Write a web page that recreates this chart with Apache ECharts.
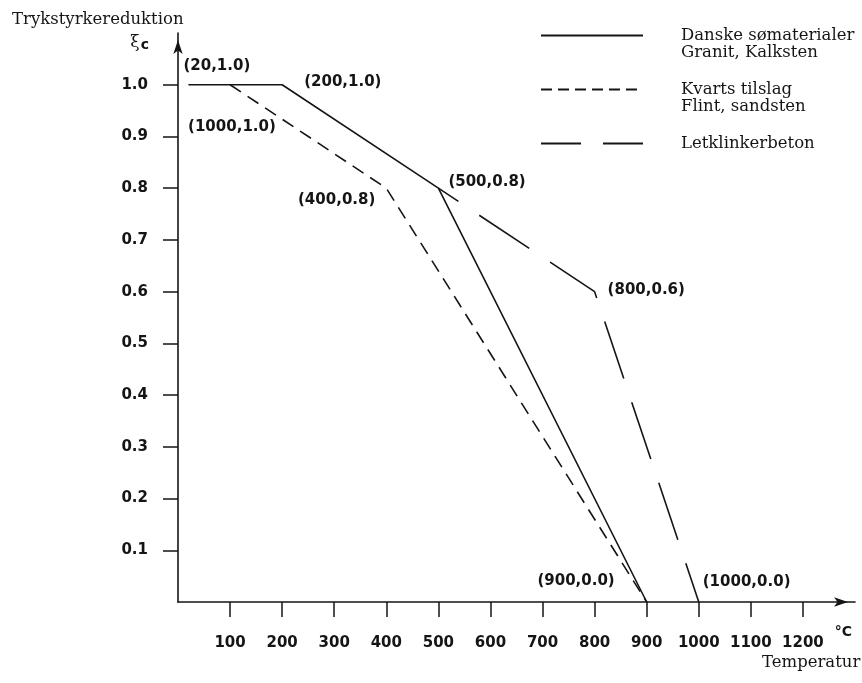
<!DOCTYPE html>
<html>
<head>
<meta charset="utf-8">
<title>Trykstyrkereduktion</title>
<script src="https://cdn.jsdelivr.net/npm/echarts@6/dist/echarts.min.js"></script>
<style>
  html, body { margin: 0; padding: 0; background: #ffffff; }
  #chart { width: 862px; height: 683px; }
</style>
</head>
<body>
<div id="chart"></div>
<script>
// Reduction of compressive strength with temperature, three aggregate types
const danskeTemp = [20, 200, 500, 900];
const danskeXi = [1.0, 1.0, 0.8, 0.0];
const danskeLabels = ['(20,1.0)', '(200,1.0)', '(500,0.8)', '(900,0.0)'];

const kvartsTemp = [100, 400, 900];
const kvartsXi = [1.0, 0.8, 0.0];
const kvartsLabels = ['(1000,1.0)', '(400,0.8)', null];

const letklinkerTemp = [500, 800, 1000];
const letklinkerXi = [0.8, 0.6, 0.0];
const letklinkerLabels = [null, '(800,0.6)', '(1000,0.0)'];

const seriesNames = ['Danske sømaterialer\nGranit, Kalksten', 'Kvarts tilslag\nFlint, sandsten', 'Letklinkerbeton'];
const tempTicks = [100, 200, 300, 400, 500, 600, 700, 800, 900, 1000, 1100, 1200];
const xiTicks = [0.1, 0.2, 0.3, 0.4, 0.5, 0.6, 0.7, 0.8, 0.9, 1.0];

// label placement per point: [dx, dy, align]
const danskeLabelPos = [[-5, -19, 'left'], [22, -3, 'left'], [10, -6, 'left'], [-32, -21, 'right']];
const kvartsLabelPos = [[-42, 42, 'left'], [-11, 12, 'right'], null];
const letklinkerLabelPos = [null, [13, -2, 'left'], [4, -20, 'left']];

const INK = '#151515';
const NUM_FONT = 'DejaVu Sans';
const SERIF = 'DejaVu Serif';

function buildPoints(xs, ys, labels, pos) {
  return xs.map((x, i) => {
    const item = { value: [x, ys[i]] };
    if (labels[i]) {
      item.label = {
        show: true,
        formatter: labels[i],
        position: 'inside',
        align: pos[i][2],
        verticalAlign: 'middle',
        offset: [pos[i][0], pos[i][1]],
        color: INK,
        fontFamily: NUM_FONT,
        fontWeight: 'bold',
        fontSize: 15
      };
    }
    return item;
  });
}

function lineSeries(name, data, dash, dashOffset) {
  return {
    name: name,
    type: 'line',
    data: data,
    symbol: 'circle',
    symbolSize: 2,
    showSymbol: true,
    itemStyle: { color: 'rgba(0,0,0,0)', borderWidth: 0 },
    lineStyle: { color: INK, width: 1.6, type: dash, dashOffset: dashOffset || 0 },
    label: { show: false },
    emphasis: { disabled: true },
    silent: true,
    animation: false,
    z: 3
  };
}

const chart = echarts.init(document.getElementById('chart'), null, { renderer: 'canvas' });

chart.setOption({
  backgroundColor: '#ffffff',
  animation: false,
  title: {
    text: 'Trykstyrkereduktion',
    left: 12,
    top: 11,
    padding: 0,
    textStyle: { fontFamily: SERIF, fontSize: 16.5, fontWeight: 'normal', color: INK }
  },
  legend: {
    orient: 'vertical',
    left: 540,
    top: 10,
    padding: 0,
    itemWidth: 102,
    itemHeight: 14,
    itemGap: 3,
    selectedMode: false,
    itemStyle: { opacity: 0 },
    data: [
      { name: seriesNames[0] },
      { name: seriesNames[1], lineStyle: { type: [11, 6], dashOffset: 0 } },
      { name: seriesNames[2], lineStyle: { type: [40, 22], dashOffset: 0 } }
    ],
    // first text line sits level with the line sample
    formatter: function (name) {
      return '\n' + (name.indexOf('\n') >= 0 ? name : name + '\n');
    },
    textStyle: {
      fontFamily: SERIF,
      fontSize: 16.5,
      lineHeight: 17,
      color: INK,
      padding: [0, 0, 0, 33]
    }
  },
  grid: { left: 178, right: 7, top: 33, bottom: 81, containLabel: false },
  xAxis: {
    type: 'value',
    min: 0,
    max: 1300,
    interval: 100,
    name: '°C',
    nameLocation: 'end',
    nameGap: 0,
    nameTextStyle: {
      fontFamily: NUM_FONT, fontWeight: 'bold', fontSize: 14, color: INK,
      align: 'right', verticalAlign: 'top', padding: [23, 3, 0, 0]
    },
    axisLine: {
      show: true,
      onZero: true,
      symbol: ['none', 'arrow'],
      symbolSize: [7, 14],
      symbolOffset: [0, -7],
      lineStyle: { color: INK, width: 1.6 }
    },
    axisTick: {
      show: true,
      inside: false,
      length: 15,
      customValues: tempTicks,
      lineStyle: { color: INK, width: 1.5 }
    },
    axisLabel: {
      show: true,
      customValues: tempTicks,
      margin: 34,
      color: INK,
      fontFamily: NUM_FONT,
      fontWeight: 'bold',
      fontSize: 15,
      formatter: function (v) { return String(v); }
    },
    splitLine: { show: false }
  },
  yAxis: {
    type: 'value',
    min: 0,
    max: 1.1,
    interval: 0.1,
    name: '{xi|ξ}{c|c}',
    nameLocation: 'end',
    nameGap: -10,
    nameTextStyle: {
      align: 'right',
      verticalAlign: 'middle',
      padding: [0, 29, 0, 0],
      rich: {
        xi: { fontFamily: SERIF, fontSize: 17, color: INK },
        c: { fontFamily: NUM_FONT, fontWeight: 'bold', fontSize: 14, color: INK, padding: [5, 0, 0, 1] }
      }
    },
    axisLine: {
      show: true,
      onZero: true,
      symbol: ['none', 'arrow'],
      symbolSize: [7, 14],
      symbolOffset: [0, -7],
      lineStyle: { color: INK, width: 1.6 }
    },
    axisTick: {
      show: true,
      inside: false,
      length: 15,
      customValues: xiTicks,
      lineStyle: { color: INK, width: 1.5 }
    },
    axisLabel: {
      show: true,
      customValues: xiTicks,
      margin: 30,
      color: INK,
      fontFamily: NUM_FONT,
      fontWeight: 'bold',
      fontSize: 15,
      formatter: function (v) { return v.toFixed(1); }
    },
    splitLine: { show: false }
  },
  graphic: [
    {
      type: 'text',
      left: 762,
      top: 654,
      style: { text: 'Temperatur', font: '16.5px "DejaVu Serif"', fill: INK }
    }
  ],
  series: [
    lineSeries(seriesNames[0], buildPoints(danskeTemp, danskeXi, danskeLabels, danskeLabelPos), 'solid'),
    lineSeries(seriesNames[1], buildPoints(kvartsTemp, kvartsXi, kvartsLabels, kvartsLabelPos), [13, 8]),
    lineSeries(seriesNames[2], buildPoints(letklinkerTemp, letklinkerXi, letklinkerLabels, letklinkerLabelPos), [60, 25], 36)
  ]
});
</script>
</body>
</html>
